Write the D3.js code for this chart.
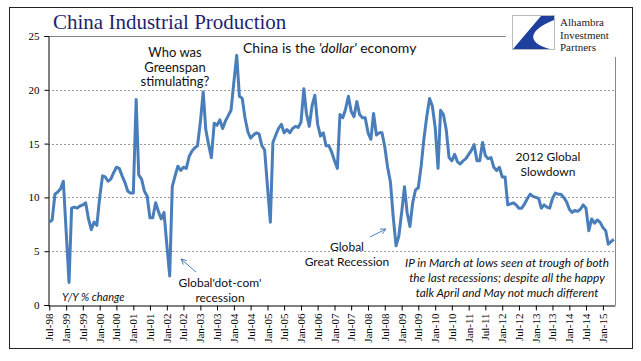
<!DOCTYPE html>
<html>
<head>
<meta charset="utf-8">
<script src="https://cdn.jsdelivr.net/npm/d3@7"></script>
<style>
  body { margin: 0; background: #fff; }
  svg { display: block; }
</style>
</head>
<body>
<div id="chart"></div>
<script>
// monthly Y/Y % change, first value is Jul-98, last is May-15
const firstMonth = new Date(1998, 6, 1);
const ipValues = [
    7.7, 7.9, 10.3, 10.5, 10.8, 11.5, 6.8, 2.1, 9.0, 9.1, 9.0, 9.2,
    9.3, 9.5, 8.0, 7.0, 7.7, 7.4, 10.0, 12.0, 11.9, 11.5, 11.7, 12.3,
    12.8, 12.7, 12.0, 11.4, 10.6, 10.4, 10.4, 19.1, 12.1, 11.7, 10.6, 10.1,
    8.1, 8.1, 9.5, 8.7, 8.0, 8.6, 5.6, 2.7, 11.0, 12.0, 12.9, 12.5,
    12.8, 12.7, 13.8, 14.3, 14.6, 14.8, 17.0, 19.8, 16.3, 14.9, 13.7, 16.9,
    16.7, 17.2, 16.4, 17.1, 17.6, 18.1, 20.7, 23.2, 19.4, 19.2, 17.4, 16.1,
    15.5, 15.8, 16.0, 15.9, 14.8, 14.4, 11.0, 7.7, 15.1, 15.8, 16.4, 16.8,
    16.0, 16.3, 16.0, 16.4, 16.6, 16.5, 17.0, 20.1, 17.8, 16.6, 18.5, 19.5,
    16.8, 15.7, 16.0, 14.8, 14.8, 14.2, 13.4, 12.7, 17.7, 17.4, 18.2, 19.4,
    18.0, 17.5, 18.9, 17.7, 17.4, 17.4, 16.0, 15.4, 17.8, 15.8, 16.0, 16.0,
    14.7, 12.8, 11.4, 8.2, 5.5, 6.4, 8.6, 11.0, 8.6, 7.3, 9.5, 10.7,
    10.9, 12.9, 15.5, 17.5, 19.2, 18.5, 16.5, 12.7, 18.1, 17.7, 16.3, 13.7,
    13.4, 14.0, 13.3, 13.1, 13.4, 13.6, 14.0, 14.4, 14.9, 13.4, 13.4, 15.1,
    13.9, 13.6, 13.7, 12.8, 12.5, 12.8, 11.9, 11.9, 9.3, 9.4, 9.5, 9.3,
    9.0, 9.0, 9.4, 9.9, 10.3, 10.1, 10.0, 9.9, 9.0, 9.3, 9.1, 9.0,
    9.9, 10.4, 10.3, 10.3, 10.0, 9.6, 8.9, 8.6, 8.8, 8.7, 8.9, 9.3,
    9.0, 6.9, 8.0, 7.6, 7.9, 7.7, 7.2, 6.9, 5.65, 5.9, 6.1
];
const yTicks = [0, 5, 10, 15, 20, 25];
const tickEveryMonths = 6;
const logoLines = ["Alhambra", "Investment", "Partners"];
const noteLines = [
    "IP in March at lows seen at trough of both",
    "the last recessions; despite all the happy",
    "talk April and May not much different"
];

const W = 641, H = 361;
const plot = { left: 48, right: 615, top: 36, bottom: 305 };
const lineColor = "#4a7ebb";
const sans = "Lato, 'Open Sans', sans-serif";
const serif = "'Liberation Serif', 'Times New Roman', serif";

const data = ipValues.map((v, i) => ({ date: d3.timeMonth.offset(firstMonth, i), value: v }));

const svg = d3.select("#chart").append("svg")
    .attr("width", W)
    .attr("height", H);

svg.append("rect").attr("width", W).attr("height", H).attr("fill", "#fff");

// outer frame
svg.append("rect")
    .attr("x", 9.5).attr("y", 7.5)
    .attr("width", 623).attr("height", 341)
    .attr("fill", "none")
    .attr("stroke", "#222")
    .attr("stroke-width", 1);

const x = d3.scaleTime()
    .domain([d3.timeDay.offset(firstMonth, -14), d3.timeDay.offset(data[data.length - 1].date, 12)])
    .range([plot.left, plot.right]);

const y = d3.scaleLinear()
    .domain([0, 25])
    .range([plot.bottom, plot.top]);

// grid lines
svg.append("g")
    .selectAll("line")
    .data(yTicks.filter(t => t > 0 && t < 25))
    .enter()
    .append("line")
    .attr("x1", plot.left).attr("x2", plot.right)
    .attr("y1", d => Math.round(y(d)) + 0.5).attr("y2", d => Math.round(y(d)) + 0.5)
    .attr("stroke", "#9a9a9a")
    .attr("stroke-dasharray", "2,2");

// plot border top and right
svg.append("line")
    .attr("x1", plot.left).attr("x2", plot.right)
    .attr("y1", y(25) + 0.5).attr("y2", y(25) + 0.5)
    .attr("stroke", "#888");
svg.append("line")
    .attr("x1", plot.right + 0.5).attr("x2", plot.right + 0.5)
    .attr("y1", plot.top).attr("y2", plot.bottom)
    .attr("stroke", "#888");

// y axis
const yAxis = svg.append("g")
    .attr("transform", `translate(${plot.left + 0.5},0)`)
    .call(d3.axisLeft(y).tickValues(yTicks).tickSize(4).tickPadding(5));
yAxis.selectAll("text").style("font-family", serif).style("font-size", "11px").attr("fill", "#000");
yAxis.select(".domain").attr("stroke", "#000");

// x axis
const xAxis = svg.append("g")
    .attr("transform", `translate(0,${plot.bottom + 0.5})`)
    .call(d3.axisBottom(x)
        .ticks(d3.timeMonth.filter(d => d.getMonth() % tickEveryMonths === 0))
        .tickFormat(d3.timeFormat("%b-%y"))
        .tickSize(5)
        .tickSizeOuter(0));
xAxis.select(".domain").attr("stroke", "#000");
xAxis.selectAll("text")
    .style("font-family", serif)
    .style("font-size", "11px")
    .attr("fill", "#000")
    .attr("text-anchor", "end")
    .attr("transform", "rotate(-90)")
    .attr("x", -8)
    .attr("y", 0)
    .attr("dy", "0.32em");

// the series
svg.append("path")
    .datum(data)
    .attr("fill", "none")
    .attr("stroke", lineColor)
    .attr("stroke-width", 3)
    .attr("stroke-linejoin", "round")
    .attr("d", d3.line().x(d => x(d.date)).y(d => y(d.value)));

// title
svg.append("text")
    .attr("x", 53).attr("y", 29)
    .style("font-family", serif)
    .style("font-size", "21px")
    .attr("fill", "#1f1f6e")
    .text("China Industrial Production");

// logo
const logo = svg.append("g");
logo.append("rect")
    .attr("x", 506).attr("y", 12).attr("width", 125).attr("height", 45)
    .attr("fill", "#fff");
logo.append("rect")
    .attr("x", 512.5).attr("y", 15.5).attr("width", 42).attr("height", 34)
    .attr("fill", "#fff").attr("stroke", "#bbb");
logo.append("path")
    .attr("d", "M554,16 L541,16 L513,49 L550,49 C530,44 524,32 554,20 Z")
    .attr("fill", "#1d3f9e");
logo.selectAll("text.logo")
    .data(logoLines)
    .enter()
    .append("text")
    .attr("x", 560)
    .attr("y", (d, i) => 26 + i * 12.5)
    .style("font-family", serif)
    .style("font-size", "11px")
    .attr("fill", "#222")
    .text(d => d);

// annotations
function label(lines, cx, y0, size, opts = {}) {
    const t = svg.append("text")
        .attr("text-anchor", opts.anchor || "middle")
        .style("font-family", sans)
        .style("font-size", size + "px")
        .style("font-style", opts.italic ? "italic" : "normal")
        .attr("fill", "#111");
    lines.forEach((l, i) => {
        t.append("tspan").attr("x", cx).attr("y", y0 + i * (opts.lh || 14.5)).text(l);
    });
    return t;
}

label(["Who was", "Greenspan", "stimulating?"], 175, 57, 13, { lh: 14.5 });

const dollar = svg.append("text")
    .attr("x", 243).attr("y", 53)
    .style("font-family", sans)
    .style("font-size", "14px")
    .attr("fill", "#111");
dollar.append("tspan").text("China is the ");
dollar.append("tspan").style("font-style", "italic").text("'dollar'");
dollar.append("tspan").text(" economy");

label(["Global'dot-com'", "recession"], 220, 287, 12, { lh: 14.5 });
label(["Global", "Great Recession"], 347, 251, 12, { lh: 14.5 });
label(["2012 Global", "Slowdown"], 548, 161, 12, { lh: 14.5 });
label(noteLines, 507, 267, 11.8, { lh: 15, italic: true });

svg.append("text")
    .attr("x", 62).attr("y", 301)
    .style("font-family", sans)
    .style("font-size", "11px")
    .style("font-style", "italic")
    .attr("fill", "#111")
    .text("Y/Y % change");

// arrows
function arrow(x1, y1, x2, y2) {
    const a = Math.atan2(y2 - y1, x2 - x1);
    const hl = 6, ha = 0.45;
    svg.append("path")
        .attr("d", `M${x1},${y1} L${x2},${y2}` +
            ` M${x2 - hl * Math.cos(a - ha)},${y2 - hl * Math.sin(a - ha)} L${x2},${y2}` +
            ` L${x2 - hl * Math.cos(a + ha)},${y2 - hl * Math.sin(a + ha)}`)
        .attr("fill", "none")
        .attr("stroke", lineColor)
        .attr("stroke-width", 1);
}
arrow(196, 272, 181, 259);
arrow(370, 237, 386, 229);
</script>
</body>
</html>
